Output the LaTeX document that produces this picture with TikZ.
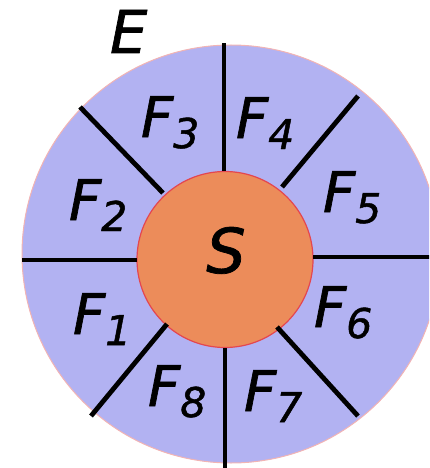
\documentclass[tikz,border=0pt]{standalone}
\usepackage{fontspec}
\newfontfamily\labfont[FakeBold=1.2]{DejaVu Sans}
\definecolor{lav}{RGB}{178,178,242}
\definecolor{sun}{RGB}{236,140,90}
\definecolor{rim}{RGB}{228,70,80}
\definecolor{outrim}{RGB}{242,180,180}
\newcommand{\flbl}[2]{{\labfont\itshape\fontsize{56}{56}\selectfont #1\raisebox{-11pt}{\fontsize{41}{41}\selectfont #2}}}
\begin{document}
\begin{tikzpicture}[x=1pt,y=-1pt,
  lbl/.style={inner sep=0pt, outer sep=0pt, anchor=base west},
  sepline/.style={line width=4.8pt, black}]
\useasboundingbox (0,0) rectangle (429,468);
\clip (0,0) rectangle (429,468);
\node[circle, draw=outrim, fill=lav, line width=1pt, minimum size=418pt, inner sep=0pt] (outer) at (231,254) {};
\node[circle, draw=rim, fill=sun, line width=1.2pt, minimum size=176pt, inner sep=0pt] (inner) at (225,259.5) {};
% separator end points
\coordinate (t1) at (224,171); \coordinate (t2) at (224,43);
\coordinate (b1) at (225,348); \coordinate (b2) at (225,470);
\coordinate (l1) at (137,260); \coordinate (l2) at (22,260);
\coordinate (r1) at (313,257); \coordinate (r2) at (432,257);
\coordinate (a1) at (163,193); \coordinate (a2) at (80,107);
\coordinate (c1) at (282,187); \coordinate (c2) at (358,96);
\coordinate (d1) at (167,324); \coordinate (d2) at (91,416);
\coordinate (e1) at (277,327); \coordinate (e2) at (358,416);
\foreach \p in {t,b,l,r,a,c,d,e} \draw[sepline] (\p1) -- (\p2);
% labels
\node[lbl] (E) at (110,53) {\labfont\itshape\fontsize{59}{59}\selectfont E};
\node[lbl] (F3) at (141,137) {\flbl{F}{3}};
\node[lbl] (F4) at (236,138) {\flbl{F}{4}};
\node[lbl] (F5) at (323,212) {\flbl{F}{5}};
\node[lbl] (F2) at (69,220) {\flbl{F}{2}};
\node[lbl] (F1) at (73,334) {\flbl{F}{1}};
\node[lbl] (F6) at (314,327) {\flbl{F}{6}};
\node[lbl] (F8) at (148,406) {\flbl{F}{8}};
\node[lbl] (F7) at (244,411) {\flbl{F}{7}};
\node[inner sep=0pt, anchor=base] (S) at (226,273) {\labfont\itshape\fontsize{62}{62}\selectfont S};
\end{tikzpicture}
\end{document}
